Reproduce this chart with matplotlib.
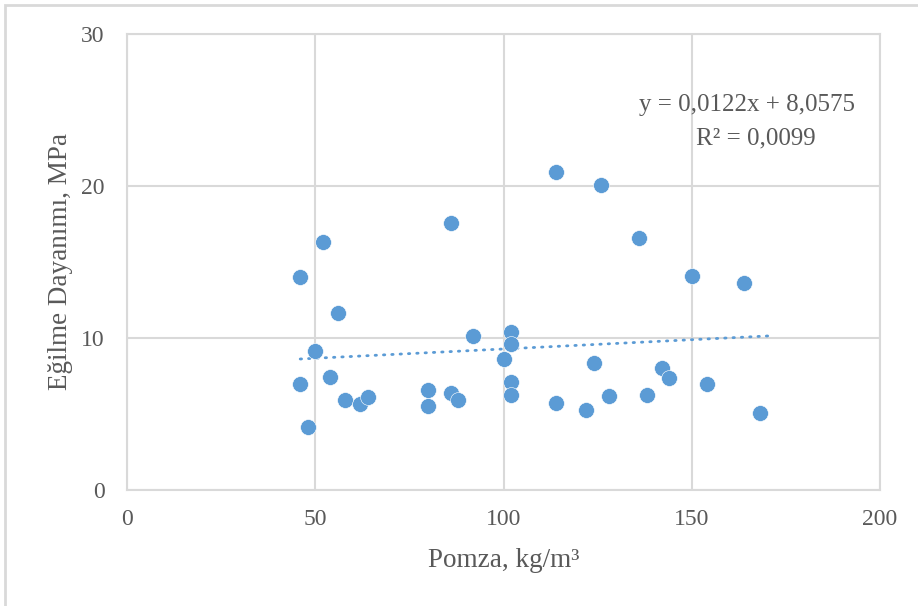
import matplotlib
matplotlib.use('Agg')
import matplotlib.pyplot as plt
from matplotlib.patches import Rectangle

# Pomza content (kg/m3) and flexural strength (MPa)
pomza = [46, 52, 56, 50, 46, 54, 48, 58, 62, 64, 80, 80, 86, 86, 88, 92, 100,
         102, 102, 102, 102, 114, 114, 122, 126, 124, 128, 136, 138, 142, 144,
         150, 154, 164, 168]
egilme = [14.0, 16.3, 11.65, 9.15, 7.0, 7.45, 4.15, 5.9, 5.65, 6.15, 6.6, 5.5,
          17.55, 6.4, 5.95, 10.1, 8.6, 10.4, 9.6, 7.1, 6.25, 20.9, 5.7, 5.25,
          20.05, 8.35, 6.2, 16.6, 6.25, 8.05, 7.35, 14.05, 7.0, 13.65, 5.05]

# linear trendline
slope = 0.0122
intercept = 8.0575
r2 = 0.0099
trend_x = [46, 171]

x_ticks = [0, 50, 100, 150, 200]
y_ticks = [0, 10, 20, 30]

blue = '#5B9BD5'
grid_gray = '#D9D9D9'
text_gray = '#595959'

plt.rcParams['font.family'] = ['Liberation Serif', 'DejaVu Serif']

fig = plt.figure(figsize=(9.18, 6.06), dpi=100)
ax = fig.add_axes([127 / 918, 1 - 490 / 606, 753 / 918, 456 / 606])

# thin frame around the chart area
fig.patches.append(Rectangle((5 / 918, -0.1), 1.2, 1 - 5 / 606 + 0.1,
                             transform=fig.transFigure, fill=False,
                             edgecolor=grid_gray, linewidth=2))

ax.set_xlim(0, 200)
ax.set_ylim(0, 30)
ax.set_xticks(x_ticks)
ax.set_yticks(y_ticks)
ax.grid(True, color=grid_gray, linewidth=1.5)
ax.set_axisbelow(True)
for s in ax.spines.values():
    s.set_color(grid_gray)
    s.set_linewidth(1.5)
ax.tick_params(length=0, labelsize=17, labelcolor=text_gray)
ax.tick_params(axis='x', pad=14)
ax.tick_params(axis='y', pad=16)

ax.scatter(pomza, egilme, s=130, color=blue, edgecolors='white',
           linewidths=0.4, zorder=3)

trend_y = [slope * x + intercept for x in trend_x]
ax.plot(trend_x, trend_y, color=blue, linewidth=2.0,
        linestyle=(0, (0.5, 2.5)), dash_capstyle='round', zorder=2)

ax.text(164.7, 25.3, f"y = {slope:.4f}x + {intercept:.4f}".replace('.', ','),
        ha='center', va='center', fontsize=18, color=text_gray)
ax.text(167.1, 23.15, f"R² = {r2:.4f}".replace('.', ','),
        ha='center', va='center', fontsize=18, color=text_gray)

ax.text(-0.088, 0.5, "Eğilme Dayanımı, MPa", transform=ax.transAxes,
        rotation=90, ha='center', va='center', fontsize=19.5, color=text_gray)
ax.text(0.5, -0.155, "Pomza, kg/m³", transform=ax.transAxes,
        ha='center', va='center', fontsize=19.5, color=text_gray)

fig.savefig('out.png', dpi=100)
